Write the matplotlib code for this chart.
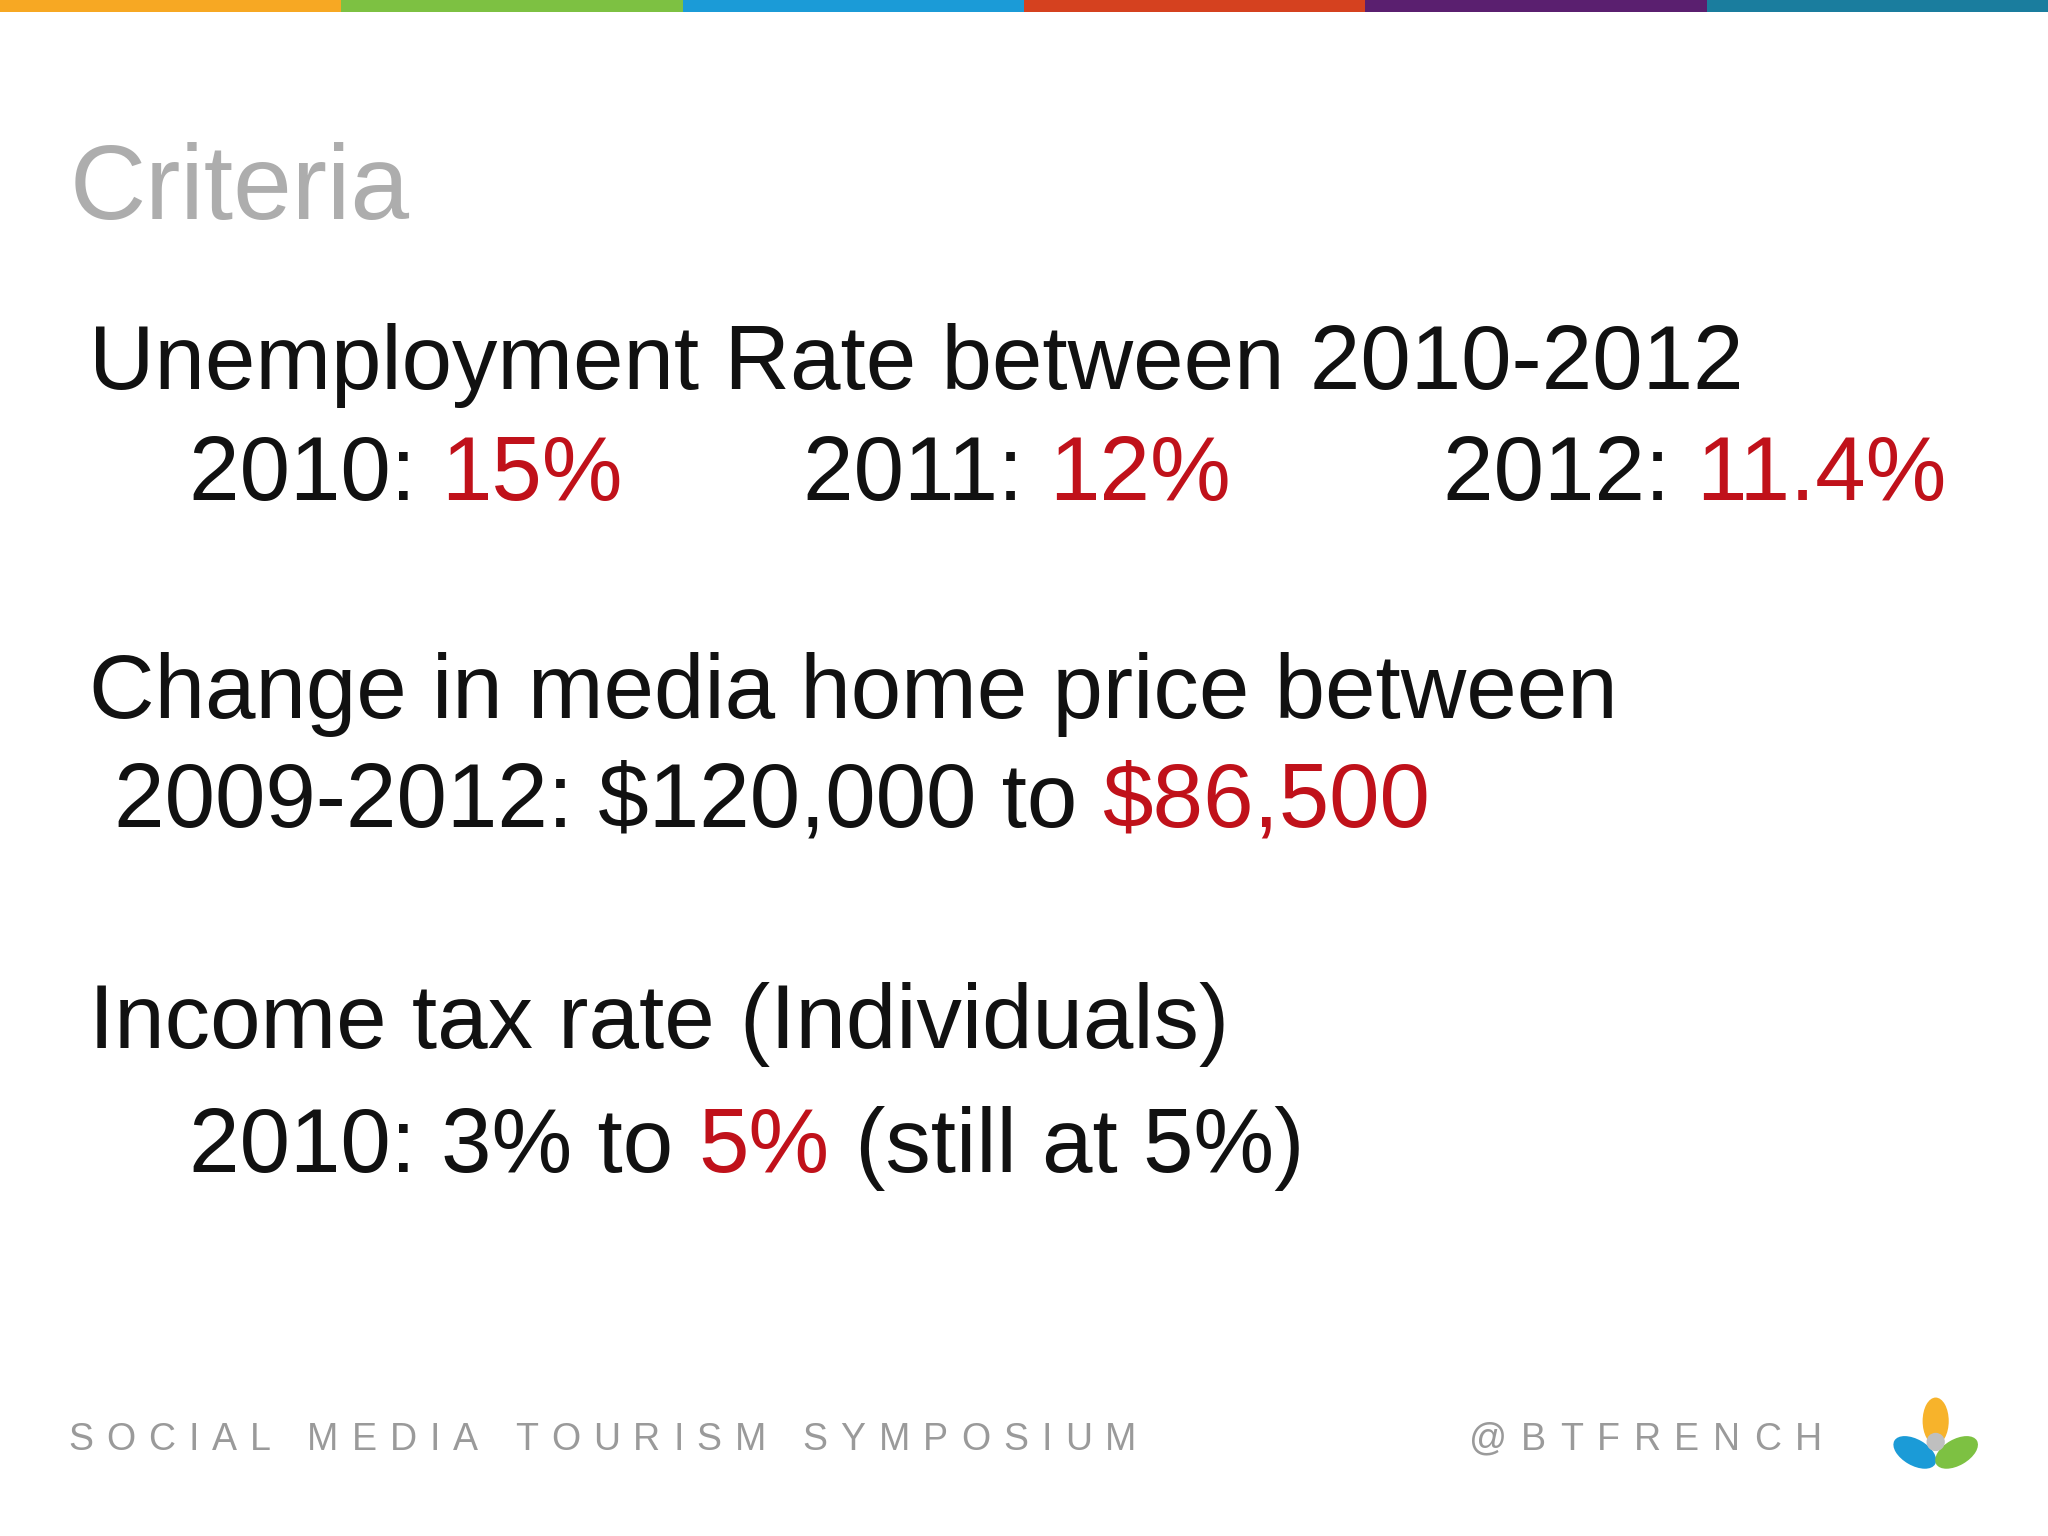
import matplotlib
matplotlib.use("Agg")
import matplotlib.pyplot as plt
from matplotlib.patches import Rectangle, Ellipse

W, H = 1568, 1176  # layout units (reference coords)
bar_colors = ["#F7A823", "#7DC142", "#1B9BD7", "#D5411F", "#5A1F6F", "#1A7D9E"]
RED = "#C0111A"
BLACK = "#111111"
FONT = "Liberation Sans"

# text lines: (x, baseline, size, [(text, color), ...])
lines = [
    (68, 298, 65.3, [("Unemployment Rate between 2010-2012", BLACK)]),
    (145, 383, 65.3, [("2010: ", BLACK), ("15%", RED)]),
    (615, 383, 65.3, [("2011: ", BLACK), ("12%", RED)]),
    (1105, 383, 65.3, [("2012: ", BLACK), ("11.4%", RED)]),
    (68, 550, 65.3, [("Change in media home price between", BLACK)]),
    (87, 633, 65.3, [("2009-2012: $120,000 to ", BLACK), ("$86,500", RED)]),
    (68, 802, 65.3, [("Income tax rate (Individuals)", BLACK)]),
    (145, 897, 65.3, [("2010: 3% to ", BLACK), ("5%", RED), (" (still at 5%)", BLACK)]),
]

fig = plt.figure(figsize=(20.48, 15.36), dpi=100)
ax = fig.add_axes([0, 0, 1, 1])
ax.set_xlim(0, W)
ax.set_ylim(H, 0)
ax.axis("off")
fig.canvas.draw()
r = fig.canvas.get_renderer()
inv = ax.transData.inverted()

def width_of(t):
    bb = t.get_window_extent(renderer=r)
    (x0, _), (x1, _) = inv.transform([[bb.x0, 0], [bb.x1, 0]])
    return x1 - x0

def runs(x, y, size, parts):
    for txt, col in parts:
        t = ax.text(x, y, txt, fontsize=size, color=col, family=FONT, va="baseline")
        x += width_of(t)

def spaced(x, y, txt, size, col, track):
    for ch in txt:
        t = ax.text(x, y, ch, fontsize=size, color=col, family=FONT, va="baseline")
        x += width_of(t) + track

# top colour bar
seg = W / len(bar_colors)
for i, c in enumerate(bar_colors):
    ax.add_patch(Rectangle((i * seg, 0), seg, 9, color=c, lw=0))

ax.text(53, 168, "Criteria", fontsize=76, color="#ADADAD", family=FONT, va="baseline")
for x, y, s, parts in lines:
    runs(x, y, s, parts)

spaced(52, 1110, "SOCIAL MEDIA TOURISM SYMPOSIUM", 27, "#9A9A9A", 10)
spaced(1125, 1110, "@BTFRENCH", 27, "#9A9A9A", 10.5)

# logo
ax.add_patch(Ellipse((1482, 1088), 20, 36, color="#F7B32B", lw=0))
ax.add_patch(Ellipse((1466, 1112), 36, 20, angle=30, color="#1B9BD7", lw=0))
ax.add_patch(Ellipse((1498, 1112), 36, 20, angle=-30, color="#7DC142", lw=0))
ax.add_patch(Ellipse((1482, 1104), 14, 14, color="#BFBFBF", lw=0))

fig.savefig("out.png", dpi=100, facecolor="white")
